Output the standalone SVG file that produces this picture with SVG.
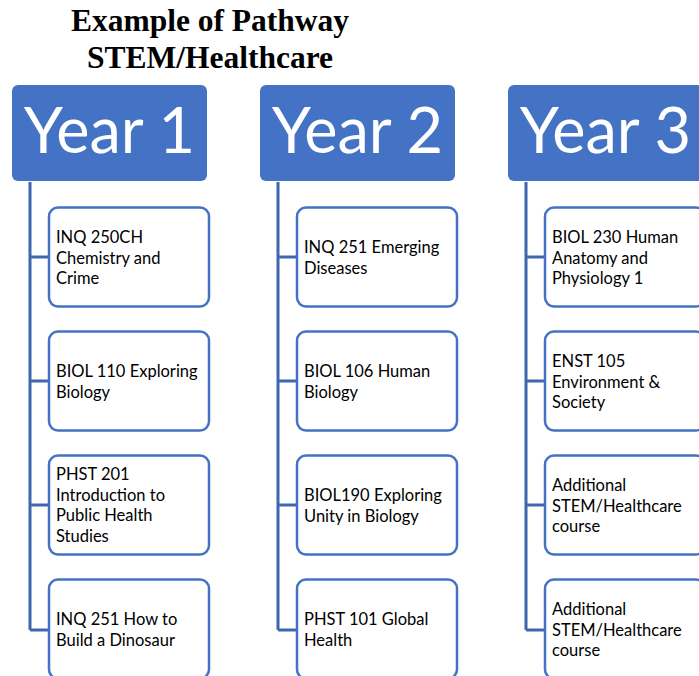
<svg xmlns="http://www.w3.org/2000/svg" width="699" height="676" viewBox="0 0 699 676">
<style>
.title{font-family:"Liberation Serif","Times New Roman",serif;font-weight:bold;font-size:31.5px;fill:#000;text-anchor:middle}
.hdr{fill:#4472C4}
.yr{font-family:Lato,"Open Sans",sans-serif;font-size:63px;fill:#fff;text-anchor:middle}
.box{fill:#fff;stroke:#4472C4;stroke-width:2.5}
.lbl{font-family:Lato,"Open Sans",sans-serif;font-size:16.5px;fill:#000}
.conn{fill:none;stroke:#3F67B0;stroke-width:3}
</style>
<text class="title" x="210" y="31">Example of Pathway</text>
<text class="title" x="210" y="68">STEM/Healthcare</text>
<g id="connectors">
<path class="conn" d="M30,182V630M30,257H49M30,381H49M30,505H49M30,630H49"/>
<path class="conn" d="M278,182V630M278,257H297M278,381H297M278,505H297M278,630H297"/>
<path class="conn" d="M526,182V630M526,257H545M526,381H545M526,505H545M526,630H545"/>
</g>
<g id="year1"><rect class="hdr" x="12" y="85" width="195" height="96" rx="6"/><text class="yr" x="109.5" y="153">Year 1</text></g>
<g id="year2"><rect class="hdr" x="260" y="85" width="195" height="96" rx="6"/><text class="yr" x="357.5" y="153">Year 2</text></g>
<g id="year3"><rect class="hdr" x="508" y="85" width="195" height="96" rx="6"/><text class="yr" x="605.5" y="153">Year 3</text></g>

<g id="y1c1"><rect class="box" x="49" y="207.5" width="160" height="99" rx="9"/><text class="lbl"><tspan x="56" y="243">INQ 250CH</tspan><tspan x="56" y="263.5">Chemistry and</tspan><tspan x="56" y="284">Crime</tspan></text></g>
<g id="y1c2"><rect class="box" x="49" y="331.5" width="160" height="99" rx="9"/><text class="lbl"><tspan x="56" y="377">BIOL 110 Exploring</tspan><tspan x="56" y="397.5">Biology</tspan></text></g>
<g id="y1c3"><rect class="box" x="49" y="455.5" width="160" height="99" rx="9"/><text class="lbl"><tspan x="56" y="480">PHST 201</tspan><tspan x="56" y="500.5">Introduction to</tspan><tspan x="56" y="521">Public Health</tspan><tspan x="56" y="541.5">Studies</tspan></text></g>
<g id="y1c4"><rect class="box" x="49" y="579.5" width="160" height="99" rx="9"/><text class="lbl"><tspan x="56" y="625">INQ 251 How to</tspan><tspan x="56" y="645.5">Build a Dinosaur</tspan></text></g>

<g id="y2c1"><rect class="box" x="297" y="207.5" width="160" height="99" rx="9"/><text class="lbl"><tspan x="304" y="253">INQ 251 Emerging</tspan><tspan x="304" y="273.5">Diseases</tspan></text></g>
<g id="y2c2"><rect class="box" x="297" y="331.5" width="160" height="99" rx="9"/><text class="lbl"><tspan x="304" y="377">BIOL 106 Human</tspan><tspan x="304" y="397.5">Biology</tspan></text></g>
<g id="y2c3"><rect class="box" x="297" y="455.5" width="160" height="99" rx="9"/><text class="lbl"><tspan x="304" y="501">BIOL190 Exploring</tspan><tspan x="304" y="521.5">Unity in Biology</tspan></text></g>
<g id="y2c4"><rect class="box" x="297" y="579.5" width="160" height="99" rx="9"/><text class="lbl"><tspan x="304" y="625">PHST 101 Global</tspan><tspan x="304" y="645.5">Health</tspan></text></g>

<g id="y3c1"><rect class="box" x="545" y="207.5" width="160" height="99" rx="9"/><text class="lbl"><tspan x="552" y="243">BIOL 230 Human</tspan><tspan x="552" y="263.5">Anatomy and</tspan><tspan x="552" y="284">Physiology 1</tspan></text></g>
<g id="y3c2"><rect class="box" x="545" y="331.5" width="160" height="99" rx="9"/><text class="lbl"><tspan x="552" y="367">ENST 105</tspan><tspan x="552" y="387.5">Environment &amp;</tspan><tspan x="552" y="408">Society</tspan></text></g>
<g id="y3c3"><rect class="box" x="545" y="455.5" width="160" height="99" rx="9"/><text class="lbl"><tspan x="552" y="491">Additional</tspan><tspan x="552" y="511.5">STEM/Healthcare</tspan><tspan x="552" y="532">course</tspan></text></g>
<g id="y3c4"><rect class="box" x="545" y="579.5" width="160" height="99" rx="9"/><text class="lbl"><tspan x="552" y="615">Additional</tspan><tspan x="552" y="635.5">STEM/Healthcare</tspan><tspan x="552" y="656">course</tspan></text></g>
</svg>
